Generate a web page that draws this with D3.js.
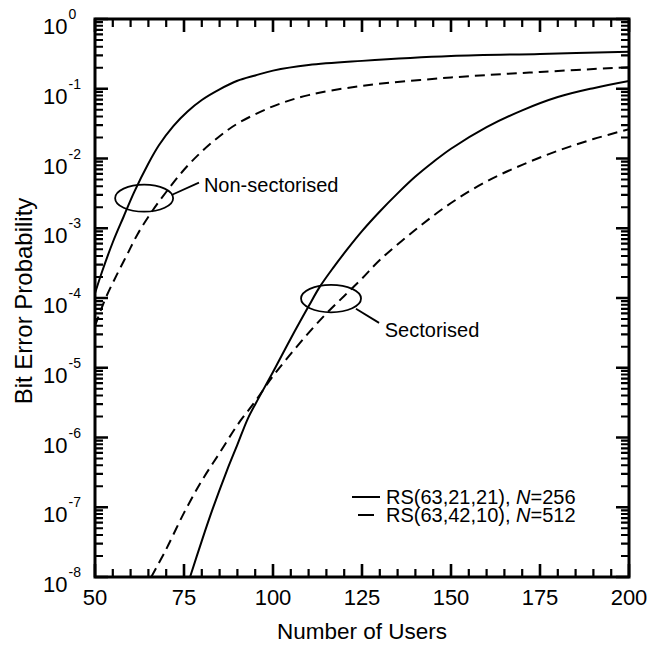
<!DOCTYPE html>
<html>
<head>
<meta charset="utf-8">
<script src="https://cdn.jsdelivr.net/npm/d3@7"></script>
<style>
  html, body { margin: 0; padding: 0; background: #fff; }
  svg { display: block; font-family: Arial, "Liberation Sans", Helvetica, sans-serif; }
</style>
</head>
<body>
<svg id="chart" width="650" height="646"></svg>
<script>
// Bit error probability versus number of users
const xTickValues = [50, 75, 100, 125, 150, 175, 200];
const yDecades = [1e-8, 1e-7, 1e-6, 1e-5, 1e-4, 1e-3, 1e-2, 1e-1, 1];

// Non-sectorised, RS(63,21,21), N=256
const nsSolidUsers = [50, 52, 55, 58, 61, 65, 68, 72, 76, 80, 85, 90, 95, 100, 110, 125, 150, 175, 200];
const nsSolidBer   = [1.17e-4, 2.4e-4, 6.3e-4, 1.45e-3, 3.3e-3, 8.5e-3, 1.56e-2, 2.92e-2, 4.72e-2, 6.9e-2,
                      9.8e-2, 0.130, 0.155, 0.182, 0.219, 0.251, 0.295, 0.316, 0.339];

// Non-sectorised, RS(63,42,10), N=512
const nsDashUsers = [50, 53, 56, 59, 62, 66, 70, 75, 80, 85, 90, 100, 110, 125, 150, 175, 200];
const nsDashBer   = [3.98e-5, 1.0e-4, 2.09e-4, 4.17e-4, 8.3e-4, 1.74e-3, 3.31e-3, 6.9e-3, 1.26e-2,
                     2.09e-2, 3.16e-2, 5.6e-2, 8.1e-2, 0.110, 0.145, 0.174, 0.204];

// Sectorised, RS(63,21,21), N=256
const sSolidUsers = [76.7, 80, 83, 87, 90, 93, 96, 100, 105, 110, 113, 117, 121, 125, 130, 135, 140,
                     145, 150, 160, 170, 180, 190, 200];
const sSolidBer   = [1.0e-8, 3.3e-8, 9.3e-8, 3.3e-7, 7.9e-7, 1.9e-6, 3.7e-6, 8.7e-6, 2.63e-5, 7.6e-5,
                     1.41e-4, 2.75e-4, 5.1e-4, 9.1e-4, 1.74e-3, 3.16e-3, 5.5e-3, 8.9e-3, 1.38e-2,
                     2.82e-2, 4.9e-2, 7.6e-2, 0.102, 0.129];

// Sectorised, RS(63,42,10), N=512
const sDashUsers = [65.8, 70, 75, 80, 85, 90, 95, 100, 105, 110, 115, 120, 125, 130, 140, 150, 160,
                    170, 180, 190, 200];
const sDashBer   = [1.0e-8, 2.5e-8, 8.3e-8, 2.4e-7, 6.0e-7, 1.51e-6, 3.3e-6, 7.6e-6, 1.58e-5, 3.16e-5,
                    6.0e-5, 1.07e-4, 1.9e-4, 3.5e-4, 9.5e-4, 2.3e-3, 4.7e-3, 8.1e-3, 1.29e-2, 1.9e-2,
                    2.63e-2];

const legendLabels = ["RS(63,21,21), ", "RS(63,42,10), "];
const legendN = ["256", "512"];

const margin = { left: 95, right: 21, top: 19, bottom: 69 };
const W = 650, H = 646;
const svg = d3.select("#chart");

const x = d3.scaleLinear().domain([50, 200]).range([margin.left, W - margin.right]);
const y = d3.scaleLog().domain([1e-8, 1]).range([H - margin.bottom, margin.top]);

const x0 = x.range()[0], x1 = x.range()[1];
const y0 = y.range()[0], y1 = y.range()[1];

// minor tick positions
const xMinor = d3.range(50, 201, 5).filter(v => v % 25 !== 0);
const yMinor = [];
for (let e = -8; e < 0; e++) for (let k = 2; k <= 9; k++) yMinor.push(k * Math.pow(10, e));

// x tick labels
svg.append("g").selectAll("text").data(xTickValues).join("text")
  .attr("x", d => x(d)).attr("y", y0 + 28)
  .attr("text-anchor", "middle").attr("font-size", 22).attr("fill", "#000")
  .text(d => d);

// y tick labels as powers of ten
const yLab = svg.append("g").selectAll("text").data(yDecades).join("text")
  .attr("x", x0 - 52).attr("y", d => y(d) + 15)
  .attr("font-size", 22).attr("fill", "#000");
yLab.append("tspan").text("10");
yLab.append("tspan").attr("font-size", 14).attr("dy", "-15px").attr("dx", "1px")
  .text(d => Math.round(Math.log10(d)));

// curves, clipped to the plot area
const defs = svg.append("defs");
defs.append("clipPath").attr("id", "plot-clip")
  .append("rect").attr("x", x0).attr("y", y1).attr("width", x1 - x0).attr("height", y0 - y1);

const curveGen = d3.line().x(d => x(d[0])).y(d => y(d[1])).curve(d3.curveCatmullRom.alpha(0.5));
const zip = (a, b) => a.map((v, i) => [v, b[i]]);

const series = [
  { users: nsSolidUsers, ber: nsSolidBer, dash: null },
  { users: nsDashUsers, ber: nsDashBer, dash: "10,6" },
  { users: sSolidUsers, ber: sSolidBer, dash: null },
  { users: sDashUsers, ber: sDashBer, dash: "10,6" }
];
const curves = svg.append("g").attr("clip-path", "url(#plot-clip)");
series.forEach(s => {
  curves.append("path")
    .attr("d", curveGen(zip(s.users, s.ber)))
    .attr("fill", "none")
    .attr("stroke", "#000")
    .attr("stroke-width", 2)
    .attr("stroke-dasharray", s.dash);
});

// annotation: non-sectorised pair
const ann = svg.append("g").attr("stroke", "#000").attr("fill", "none").attr("stroke-width", 1.8);
ann.append("ellipse").attr("cx", x(63.8)).attr("cy", y(2.7e-3)).attr("rx", 29).attr("ry", 13.5);
ann.append("line").attr("x1", x(71.5)).attr("y1", y(3.0e-3)).attr("x2", x(79.2)).attr("y2", y(4.5e-3));
svg.append("text").attr("x", x(80.6)).attr("y", y(2.7e-3) - 6)
  .attr("font-size", 20).attr("fill", "#000").text("Non-sectorised");

// annotation: sectorised pair
ann.append("ellipse").attr("cx", x(116.3)).attr("cy", y(9.8e-5)).attr("rx", 30).attr("ry", 13.7);
ann.append("line").attr("x1", x(123.3)).attr("y1", y(7.0e-5)).attr("x2", x(129.8)).attr("y2", y(4.4e-5));
svg.append("text").attr("x", x(131.4)).attr("y", y(9.8e-5) + 38)
  .attr("font-size", 20).attr("fill", "#000").text("Sectorised");

// legend
const legend = svg.append("g");
[0, 1].forEach(i => {
  const base = 504 + i * 18;
  const xa = i === 0 ? 352 : 358, xb = i === 0 ? 380 : 374;
  legend.append("line").attr("x1", xa).attr("x2", xb).attr("y1", base - 7).attr("y2", base - 7)
    .attr("stroke", "#000").attr("stroke-width", 2);
  const t = legend.append("text").attr("x", 386).attr("y", base).attr("font-size", 20).attr("fill", "#000");
  t.append("tspan").text(legendLabels[i]);
  t.append("tspan").attr("font-style", "italic").text("N");
  t.append("tspan").text("=" + legendN[i]);
});

// axis titles
svg.append("text")
  .attr("x", (x0 + x1) / 2).attr("y", 639)
  .attr("text-anchor", "middle").attr("font-size", 22.5).attr("fill", "#000")
  .text("Number of Users");
svg.append("text")
  .attr("transform", `translate(32,301) rotate(-90)`)
  .attr("text-anchor", "middle").attr("font-size", 24).attr("fill", "#000")
  .text("Bit Error Probability");

// plot frame
svg.append("rect")
  .attr("x", x0).attr("y", y1).attr("width", x1 - x0).attr("height", y0 - y1)
  .attr("fill", "none").attr("stroke", "#000").attr("stroke-width", 3);

// inward-pointing ticks on all four sides
function tickPath(len, xs, ys) {
  const p = d3.path();
  xs.forEach(v => {
    const px = x(v);
    p.moveTo(px, y0); p.lineTo(px, y0 - len);
    p.moveTo(px, y1); p.lineTo(px, y1 + len);
  });
  ys.forEach(v => {
    const py = y(v);
    p.moveTo(x0, py); p.lineTo(x0 + len, py);
    p.moveTo(x1, py); p.lineTo(x1 - len, py);
  });
  return p.toString();
}
svg.append("path").attr("d", tickPath(13, xTickValues, yDecades))
  .attr("fill", "none").attr("stroke", "#000").attr("stroke-width", 2.6);
svg.append("path").attr("d", tickPath(8, xMinor, yMinor))
  .attr("fill", "none").attr("stroke", "#000").attr("stroke-width", 2.2);
</script>
</body>
</html>
